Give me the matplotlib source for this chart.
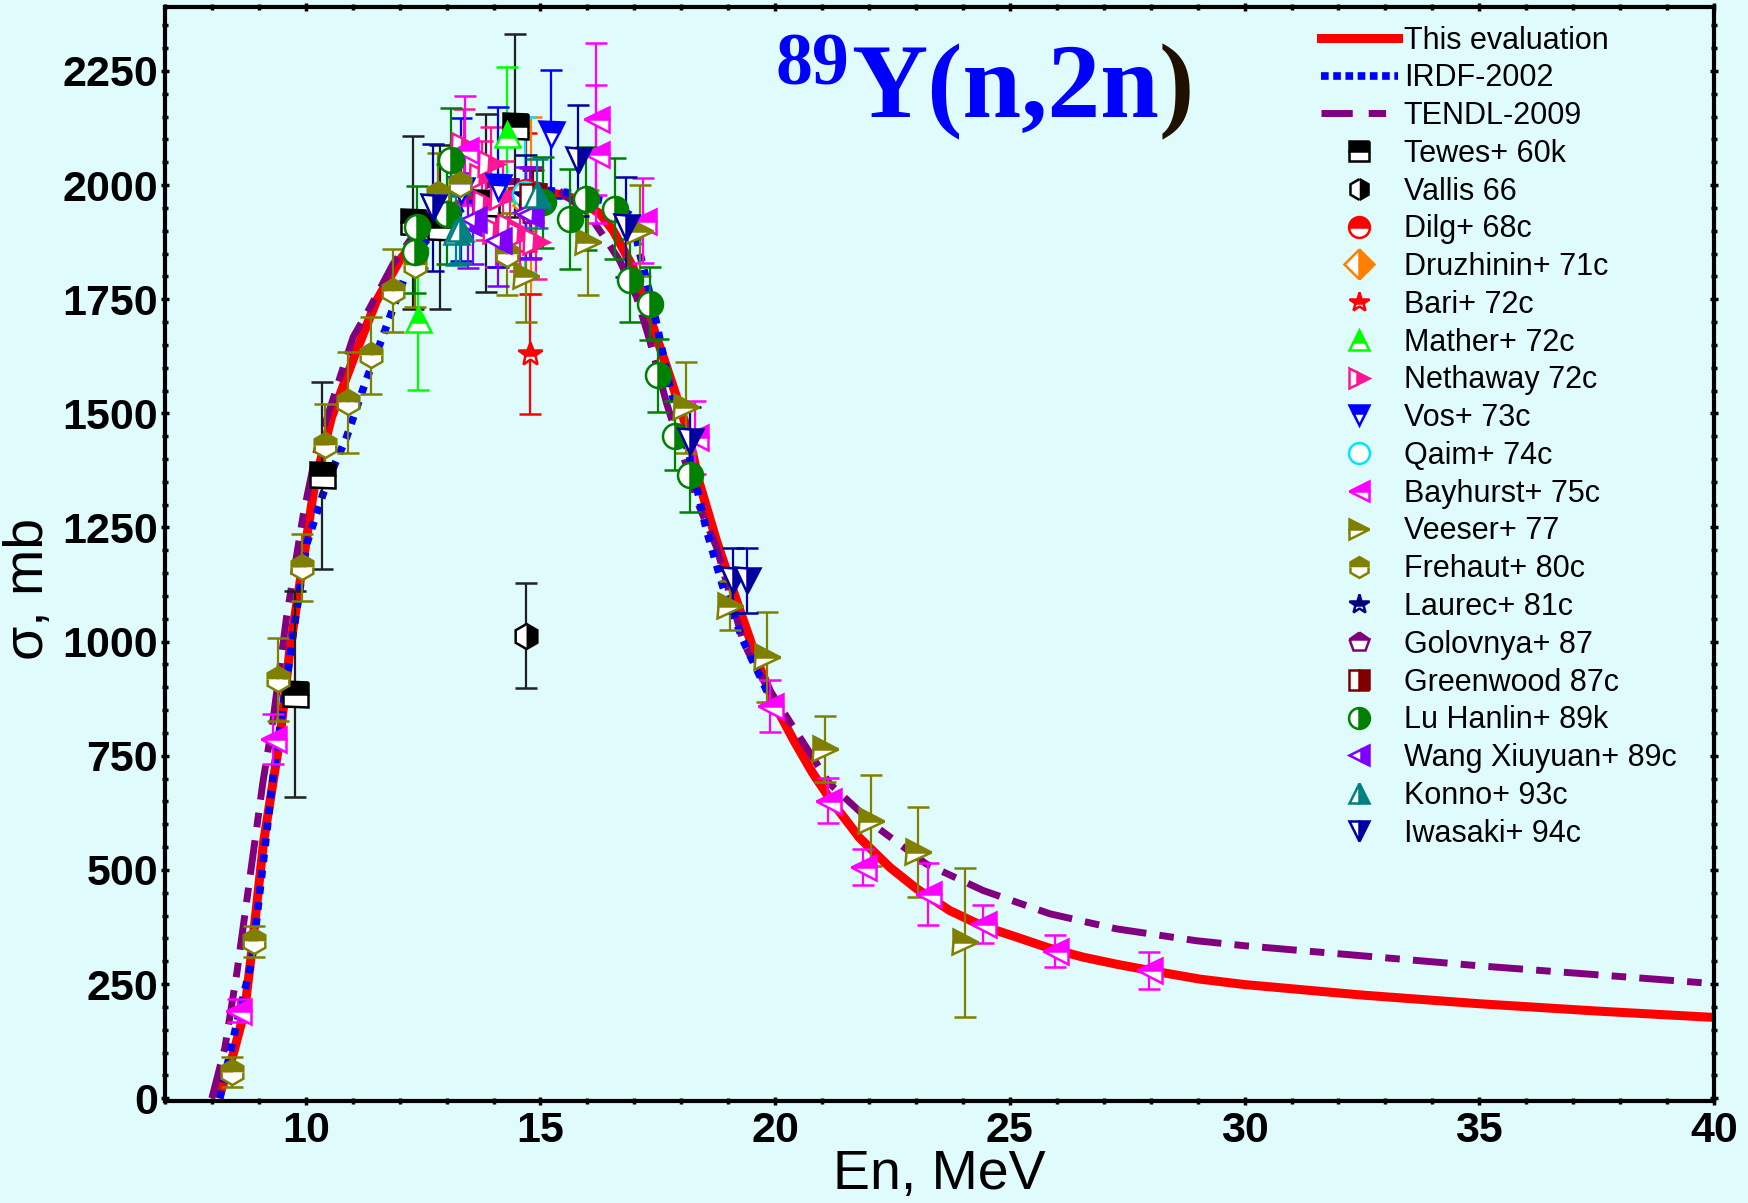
import matplotlib
matplotlib.use('Agg')
import matplotlib.pyplot as plt
from matplotlib.lines import Line2D
from matplotlib.ticker import MultipleLocator

# evaluated curves (En in MeV, sigma in mb)
eval_e = [8.14, 8.45, 8.70, 8.85, 9.1, 9.45, 9.66, 9.98, 10.19, 10.55, 11.08, 11.51, 12.0, 12.5,
          13.0, 13.5, 14.0, 14.5, 15.0, 15.5, 15.84, 16.27, 16.55, 16.97, 17.33, 17.69, 18.11,
          18.39, 18.75, 19.25, 19.67, 20.0, 20.4, 20.8, 21.24, 21.8, 22.44, 23.0, 23.72, 24.4,
          25.14, 25.8, 26.56, 27.3, 27.98, 29.04, 30.0, 32.5, 35.0, 37.5, 40.0]
eval_s = [0, 95, 192, 323, 560, 788, 981, 1200, 1345, 1492, 1637, 1747, 1835, 1900,
          1945, 1970, 1982, 1988, 1986, 1978, 1966, 1937, 1900, 1820, 1710, 1601, 1470,
          1346, 1221, 1068, 944, 860, 783, 712, 645, 570, 506, 460, 411, 378,
          353, 330, 309, 293, 280, 261, 249, 226, 207, 191, 177]

irdf_e = [8.17, 8.5, 8.85, 9.3, 9.73, 10.02, 10.37, 10.62, 10.87, 11.26, 11.58, 12.08, 12.5,
          13.0, 14.0, 15.0, 15.55, 16.34, 16.94, 17.12, 17.4, 17.76, 18.18, 18.54, 18.89,
          19.32, 19.82, 19.95]
irdf_s = [0, 150, 300, 700, 1017, 1214, 1324, 1389, 1448, 1565, 1652, 1791, 1870,
          1930, 1985, 1990, 1984, 1966, 1933, 1849, 1732, 1557, 1404, 1243, 1119,
          1002, 893, 870]

tendl_e = [8.0, 8.28, 8.54, 9.09, 9.31, 9.59, 9.95, 10.23, 10.73, 11.01, 11.37, 11.86, 12.5,
           13.0, 14.0, 14.5, 15.34, 16.0, 16.41, 16.69, 17.05, 17.33, 17.69, 18.39, 18.75,
           19.32, 19.6, 20.31, 21.16, 22.16, 23.22, 24.43, 25.85, 27.27, 28.97, 30.0, 35.0, 40.0]
tendl_s = [0, 112, 280, 694, 834, 1053, 1280, 1419, 1579, 1667, 1732, 1827, 1920,
           1965, 2005, 2008, 1992, 1940, 1878, 1834, 1754, 1659, 1521, 1294, 1207,
           1000, 940, 825, 689, 594, 513, 455, 404, 371, 345, 334, 290, 251]

# experimental data: energy, cross section, uncertainty
tewes_e = [9.78, 10.34, 12.28, 12.86, 13.84, 14.45]
tewes_s = [885, 1364, 1918, 1908, 1960, 2130]
tewes_d = [225, 205, 190, 180, 195, 200]

vallis_e = [14.69]
vallis_s = [1013]
vallis_d = [115]

dilg_e = [14.7]
dilg_s = [1985]
dilg_d = [130]

druzh_e = [14.8]
druzh_s = [1956]
druzh_d = [194]

bari_e = [14.77]
bari_s = [1630]
bari_d = [132]

mather_e = [12.4, 14.28]
mather_s = [1707, 2112]
mather_d = [155, 146]

neth_e = [13.37, 13.75, 13.85, 13.94, 14.06, 14.2, 14.35, 14.56, 14.9]
neth_s = [2086, 2017, 1959, 2047, 1900, 1973, 1908, 1891, 1875]
neth_d = [80, 80, 80, 80, 80, 80, 80, 80, 80]

vos_e = [13.3, 14.1, 15.22]
vos_s = [1990, 1995, 2112]
vos_d = [156, 175, 140]

qaim_e = [14.68]
qaim_s = [1980]
qaim_d = [170]

bayh_e = [8.56, 9.31, 13.39, 16.19, 16.19, 17.19, 18.29, 19.89, 21.13, 21.87, 23.26, 24.43,
          25.97, 27.97]
bayh_s = [192, 787, 2076, 2145, 2068, 1922, 1448, 860, 652, 506, 448, 382, 323, 280]
bayh_d = [25, 55, 119, 166, 151, 93, 80, 57, 49, 39, 68, 41, 35, 40]

veeser_e = [14.7, 16.02, 17.12, 18.11, 19.03, 19.82, 21.06, 22.05, 23.04, 24.04]
veeser_s = [1800, 1875, 1900, 1513, 1079, 966, 765, 608, 539, 342]
veeser_d = [100, 115, 100, 100, 53, 98, 73, 99, 98, 163]

freh_e = [8.42, 8.90, 9.41, 9.91, 10.41, 10.89, 11.38, 11.86, 12.32, 12.82, 13.28, 14.28]
freh_s = [57, 344, 918, 1163, 1430, 1524, 1627, 1769, 1824, 1981, 2003, 1849]
freh_d = [33, 34, 91, 73, 90, 110, 85, 90, 90, 90, 90, 90]

laurec_e = [14.7]
laurec_s = [1975]
laurec_d = [90]

golov_e = [14.8]
golov_s = [1940]
golov_d = [100]

green_e = [14.85]
green_s = [1975]
green_d = [57]

lu_e = [12.32, 12.36, 13.0, 13.1, 15.06, 15.63, 15.98, 16.58, 16.9, 17.33, 17.51, 17.86, 18.18]
lu_s = [1853, 1908, 1937, 2054, 1962, 1926, 1970, 1948, 1791, 1740, 1583, 1451, 1364]
lu_d = [90, 90, 110, 114, 100, 110, 113, 111, 90, 80, 80, 75, 80]

wang_e = [13.46, 13.57, 14.1, 14.7, 14.77]
wang_s = [1918, 1926, 1880, 1940, 1937]
wang_d = [100, 100, 100, 100, 100]

konno_e = [13.21, 13.28, 14.92]
konno_s = [1900, 1905, 1981]
konno_d = [75, 75, 75]

iwas_e = [12.71, 15.8, 16.83, 18.18, 19.1, 19.39]
iwas_s = [1951, 2054, 1908, 1440, 1134, 1134]
iwas_d = [140, 122, 109, 75, 71, 71]

# label, data, marker, colour, fill side
sets = [
    ('Tewes+ 60k', tewes_e, tewes_s, tewes_d, 's', 'black', 'top'),
    ('Vallis 66', vallis_e, vallis_s, vallis_d, 'h', 'black', 'right'),
    ('Dilg+ 68c', dilg_e, dilg_s, dilg_d, 'o', 'red', 'top'),
    ('Druzhinin+ 71c', druzh_e, druzh_s, druzh_d, 'D', '#ff8000', 'right'),
    ('Bari+ 72c', bari_e, bari_s, bari_d, '*', 'red', 'top'),
    ('Mather+ 72c', mather_e, mather_s, mather_d, '^', '#00ff00', 'top'),
    ('Nethaway 72c', neth_e, neth_s, neth_d, '>', '#ff1493', 'right'),
    ('Vos+ 73c', vos_e, vos_s, vos_d, 'v', '#0000ff', 'top'),
    ('Qaim+ 74c', qaim_e, qaim_s, qaim_d, 'o', '#00e5ff', 'none'),
    ('Bayhurst+ 75c', bayh_e, bayh_s, bayh_d, '<', '#ff00ff', 'top'),
    ('Veeser+ 77', veeser_e, veeser_s, veeser_d, '>', '#808000', 'top'),
    ('Frehaut+ 80c', freh_e, freh_s, freh_d, 'h', '#808000', 'top'),
    ('Laurec+ 81c', laurec_e, laurec_s, laurec_d, '*', '#000080', 'top'),
    ('Golovnya+ 87', golov_e, golov_s, golov_d, 'p', '#800080', 'top'),
    ('Greenwood 87c', green_e, green_s, green_d, 's', '#800000', 'right'),
    ('Lu Hanlin+ 89k', lu_e, lu_s, lu_d, 'o', '#008000', 'right'),
    ('Wang Xiuyuan+ 89c', wang_e, wang_s, wang_d, '<', '#8000ff', 'right'),
    ('Konno+ 93c', konno_e, konno_s, konno_d, '^', '#008080', 'right'),
    ('Iwasaki+ 94c', iwas_e, iwas_s, iwas_d, 'v', '#0000a0', 'right'),
]

bg = '#e0fbfc'
plt.rcParams['font.family'] = ['Liberation Sans', 'DejaVu Sans']

fig = plt.figure(figsize=(17.49, 12.03), dpi=100, facecolor=bg)
ax = fig.add_axes([0.0943, 0.0848, 0.8857, 0.9094])
ax.set_facecolor(bg)

ax.plot(eval_e, eval_s, color='red', lw=6.5, solid_capstyle='butt', solid_joinstyle='round',
        zorder=2)
ax.plot(tendl_e, tendl_s, color='#800080', lw=5, dashes=(5, 1.9, 2.1, 1.9),
        dash_capstyle='butt', zorder=2)
ax.plot(irdf_e, irdf_s, color='#0000ff', lw=5.5, dashes=(1, 1.1),
        dash_capstyle='butt', zorder=2)

handles = [
    Line2D([], [], color='red', lw=6.5),
    Line2D([], [], color='#0000ff', lw=5.5, dashes=(1, 0.6)),
    Line2D([], [], color='#800080', lw=5, dashes=(4.5, 2.3, 2.5, 2.3)),
]
labels = ['This evaluation', 'IRDF-2002', 'TENDL-2009']

for lab, e, s, d, mk, col, fill in sets:
    ecol = '#202020' if col == 'black' else col
    if fill == 'none':
        mkw = dict(mfc='white', mec=col)
    else:
        mkw = dict(mfc=col, mec=col, fillstyle=fill, markerfacecoloralt='white')
    ax.errorbar(e, s, yerr=d, fmt=mk, ms=18, mew=1.8, ecolor=ecol, elinewidth=1.6,
                capsize=8, capthick=1.6, zorder=3, **mkw)
    handles.append(Line2D([], [], ls='none', marker=mk, ms=15, mew=1.8, **mkw))
    labels.append(lab)

ax.set_xlim(7, 40)
ax.set_ylim(-6, 2390)
ax.xaxis.set_major_locator(MultipleLocator(5))
ax.xaxis.set_minor_locator(MultipleLocator(1))
ax.yaxis.set_major_locator(MultipleLocator(250))
ax.yaxis.set_minor_locator(MultipleLocator(50))
ax.tick_params(which='both', direction='inout', top=True, right=True, width=2.5)
ax.tick_params(which='major', length=6)
ax.tick_params(which='minor', length=5)
ax.tick_params(axis='x', pad=4)
ax.tick_params(axis='y', pad=2)
for lbl in ax.get_xticklabels() + ax.get_yticklabels():
    lbl.set_fontweight('bold')
    lbl.set_fontsize(31)
for sp in ax.spines.values():
    sp.set_linewidth(3)

ax.set_xlabel('En, MeV', fontsize=40, labelpad=-1)
ax.set_ylabel('σ, mb', fontsize=40)
ax.yaxis.set_label_coords(-0.071, 0.468)

# title 89Y(n,2n)
tfont = dict(family='Liberation Serif', fontweight='bold')
t1 = ax.text(0.443, 0.899, 'Y(n,2n', transform=ax.transAxes, fontsize=76, color='#0000ff',
             ha='left', va='baseline', **tfont)
ax.text(0.442, 0.929, '89', transform=ax.transAxes, fontsize=53, color='#0000ff',
        ha='right', va='baseline', **tfont)
ax.annotate(')', xy=(1, 0), xycoords=t1, ha='left', va='bottom', fontsize=76,
            color='#201000', **tfont)

ax.legend(handles, labels, loc='upper left', bbox_to_anchor=(0.746, 0.983),
          frameon=False, fontsize=22, handlelength=2.52, handletextpad=0.2,
          labelspacing=0.254, borderpad=0, borderaxespad=0, numpoints=1)

fig.savefig('out.png', dpi=100, facecolor=bg)
